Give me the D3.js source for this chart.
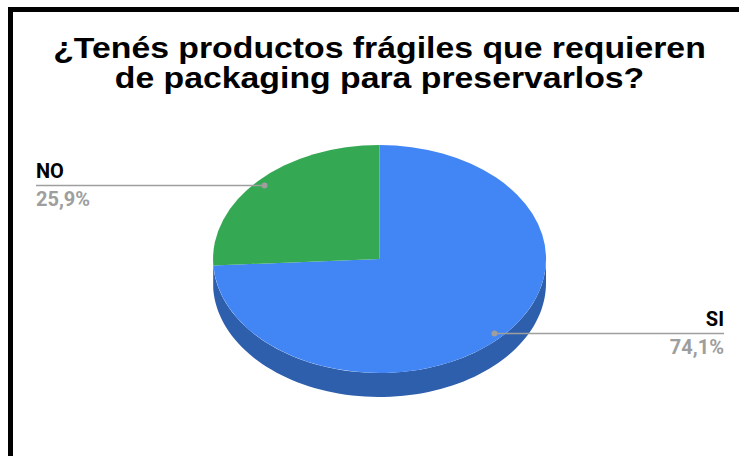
<!DOCTYPE html>
<html>
<head>
<meta charset="utf-8">
<script src="https://cdn.jsdelivr.net/npm/d3@7/dist/d3.min.js"></script>
<style>
  html, body { margin: 0; padding: 0; background: #fff; }
  svg { display: block; }
</style>
</head>
<body>
<svg id="chart" width="739" height="456"></svg>
<script>
// Survey answers
const titleLines = ["¿Tenés productos frágiles que requieren", "de packaging para preservarlos?"];
const categories = ["SI", "NO"];
const values = [74.1, 25.9];
const valueLabels = ["74,1%", "25,9%"];
const topColors = ["#4285f4", "#34a853"];
const sideColors = ["#2e5fad", "#24783c"];

const W = 739, H = 456;
const svg = d3.select("#chart");

// Frame (only top and left edges fall inside the view)
svg.append("rect")
  .attr("x", 10.5).attr("y", 9.5)
  .attr("width", 900).attr("height", 700)
  .attr("fill", "none").attr("stroke", "#000").attr("stroke-width", 5);

// Title, widened to its slot
const titleG = svg.append("g");
const tTexts = titleG.selectAll("text").data(titleLines).join("text")
  .attr("x", 0).attr("y", (d, i) => 58 + i * 30)
  .attr("text-anchor", "middle")
  .attr("font-family", "'Liberation Sans', Arial, sans-serif")
  .attr("font-weight", "bold")
  .attr("font-size", 30)
  .attr("fill", "#000")
  .text(d => d);
const w0 = tTexts.nodes()[0].getComputedTextLength();
const sx = 653 / w0;
titleG.attr("transform", `translate(379.5,0) scale(${sx},1)`);

// 3D pie geometry
const cx = 379.5, cy = 259, rx = 166.5, ry = 114, depth = 24;
const pie = d3.pie().sort(null).value(d => d);
const arcs = pie(values);

const pt = (a, dy = 0) => [cx + rx * Math.sin(a), cy - ry * Math.cos(a) + dy];

// Front wall of each slice (visible half is angles π/2 .. 3π/2)
const sideG = svg.append("g");
arcs.forEach((d, i) => {
  const s = Math.max(d.startAngle, Math.PI / 2);
  const e = Math.min(d.endAngle, 3 * Math.PI / 2);
  if (e <= s) return;
  const n = 80;
  const topPts = d3.range(n + 1).map(k => pt(s + (e - s) * k / n));
  const botPts = topPts.slice().reverse().map(p => [p[0], p[1] + depth]);
  sideG.append("path")
    .attr("d", d3.line()(topPts.concat(botPts)) + "Z")
    .attr("fill", sideColors[i]);
});

// Top faces
const arcGen = d3.arc().innerRadius(0).outerRadius(1);
svg.append("g")
  .attr("transform", `translate(${cx},${cy}) scale(${rx},${ry})`)
  .selectAll("path").data(arcs).join("path")
  .attr("d", arcGen)
  .attr("fill", (d, i) => topColors[i]);

// Leader lines and labels
const labelG = svg.append("g");
arcs.forEach((d, i) => {
  const mid = (d.startAngle + d.endAngle) / 2;
  const [px, py] = [cx + rx * 0.95 * Math.sin(mid), cy - ry * 0.95 * Math.cos(mid)];
  const right = Math.sin(mid) > 0;
  const ex = right ? 724 : 36;
  const yl = Math.round(py) + 0.5;
  labelG.append("line")
    .attr("x1", px).attr("y1", yl).attr("x2", ex).attr("y2", yl)
    .attr("stroke", "#9e9e9e").attr("stroke-width", 1.5);
  labelG.append("circle")
    .attr("cx", px).attr("cy", yl).attr("r", 3)
    .attr("fill", "#9e9e9e");
  const anchor = right ? "end" : "start";
  labelG.append("text")
    .attr("x", ex).attr("y", yl - 8)
    .attr("text-anchor", anchor)
    .attr("font-family", "Roboto, sans-serif").attr("font-weight", "bold")
    .attr("font-size", 20).attr("fill", "#000")
    .text(categories[i]);
  labelG.append("text")
    .attr("x", ex).attr("y", yl + 20)
    .attr("text-anchor", anchor)
    .attr("font-family", "Roboto, sans-serif").attr("font-weight", "bold")
    .attr("font-size", 20).attr("fill", "#9e9e9e")
    .text(valueLabels[i]);
});
</script>
</body>
</html>
